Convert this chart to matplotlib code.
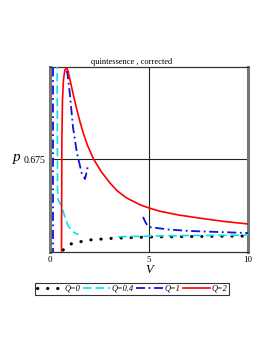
import numpy as np
import matplotlib
matplotlib.use("Agg")
import matplotlib.pyplot as plt

# ---- data ----
V_q0 = [0.66, 1.1, 1.6, 2.0, 3.0, 4.0, 5.0, 7.0, 10.0]
P_q0 = [0.5772, 0.5842, 0.5864, 0.5880, 0.5896, 0.5905, 0.5912, 0.5917, 0.5923]

V_q04a = [0.36, 0.37, 0.38, 0.42, 0.55, 0.62, 0.75, 0.9, 1.1, 1.3, 1.45]
P_q04a = [0.782, 0.718, 0.642, 0.631, 0.626, 0.622, 0.613, 0.604, 0.598, 0.595, 0.594]
V_q04b = [3.45, 5.0, 7.0, 10.0]
P_q04b = [0.5915, 0.5922, 0.5928, 0.5932]

V_q1v = [0.15, 0.15]
P_q1v = [0.57, 0.78]
V_q1a = [0.80, 0.87, 1.0, 1.16, 1.36, 1.6, 1.77, 1.87, 1.92]
P_q1a = [0.770, 0.770, 0.7469, 0.7101, 0.6820, 0.6604, 0.6539, 0.6636, 0.6680]
V_q1b = [4.7, 4.8, 4.9, 5.0, 6.0, 7.07, 10.0]
P_q1b = [0.6129, 0.6080, 0.6042, 0.6020, 0.5993, 0.5977, 0.5955]

V_q2 = [0.58, 0.59, 0.60, 0.63, 0.68, 0.75, 0.85, 0.92, 1.0, 1.1, 1.2, 1.36,
        1.5, 1.68, 1.9, 2.2, 2.6, 3.03, 3.4, 3.87, 4.55, 5.0, 5.56, 6.5, 7.6,
        8.8, 10.0]
P_q2 = [0.5664, 0.6312, 0.6961, 0.7393, 0.7609, 0.7718, 0.7742, 0.7700, 0.7620,
        0.7525, 0.7430, 0.7285, 0.7170, 0.7036, 0.6900, 0.6755, 0.6615, 0.6496,
        0.6410, 0.6334, 0.6260, 0.6226, 0.6190, 0.6150, 0.6115, 0.6080, 0.6053]

labels = ["Q=0", "Q=0.4", "Q=1", "Q=2"]
xticks = [0, 5, 10]
p_mark = 0.675
v_mark = 5

fig = plt.figure(figsize=(2.73, 3.53), dpi=100)
ax = fig.add_axes([50/273, 101/353, 198/273, 185/353])
ax.set_xlim(0, 10)
ax.set_ylim(0.575, 0.775)

serif = "Liberation Serif"

ax.axvline(v_mark, color="#222222", lw=0.8, zorder=1)
ax.axhline(p_mark, color="#222222", lw=0.8, zorder=1)

l0, = ax.plot(V_q0, P_q0, color="black", lw=2.2, linestyle=(0, (0.1, 3.2)),
              dash_capstyle="round", label=labels[0], zorder=3)
l1, = ax.plot(V_q04a, P_q04a, color="#00e5e5", lw=1.2, linestyle=(0, (5, 2.5)),
              label=labels[1], zorder=3)
ax.plot(V_q04b, P_q04b, color="#00e5e5", lw=1.2, linestyle=(0, (5, 2.5)), zorder=3)
l2, = ax.plot(V_q1a, P_q1a, color="#1010e0", lw=1.3, linestyle=(0, (5, 2, 1, 2)),
              label=labels[2], zorder=3)
ax.plot(V_q1v, P_q1v, color="#1010e0", lw=1.3, linestyle=(0, (5, 2, 1, 2)), zorder=3)
ax.plot(V_q1b, P_q1b, color="#1010e0", lw=1.3, linestyle=(0, (5, 2, 1, 2)), zorder=3)
l3, = ax.plot(V_q2, P_q2, color="#ff0000", lw=1.2, label=labels[3], zorder=4)

for s in ["left", "right"]:
    ax.spines[s].set_color("#777777")
    ax.spines[s].set_linewidth(2.2)
for s in ["top", "bottom"]:
    ax.spines[s].set_color("#333333")
    ax.spines[s].set_linewidth(0.9)

ax.set_xticks(xticks)
ax.set_xticklabels([str(t) for t in xticks], fontfamily=serif, fontsize=6.5)
ax.set_yticks([p_mark])
ax.set_yticklabels([str(p_mark)], fontfamily=serif, fontsize=7)
ax.tick_params(axis="both", length=0, pad=3)

ax.set_xlabel("V", fontfamily=serif, fontstyle="italic", fontsize=9, labelpad=0)
fig.text(17/273, 1 - 158/353, "p", fontfamily=serif, fontstyle="italic",
         fontsize=11, ha="center", va="center")
fig.text(132/273, 1 - 62/353, "quintessence , corrected", fontfamily=serif,
         fontsize=6, ha="center", va="center")

leg = fig.legend(handles=[l0, l1, l2, l3], labels=labels, loc="center",
                 bbox_to_anchor=(132/273, 1 - 289/353), ncol=4, frameon=True,
                 fancybox=False, edgecolor="black", handlelength=3.2,
                 handletextpad=0.2, columnspacing=0.3, borderpad=0.25,
                 prop={"family": serif, "style": "italic", "size": 6})
leg.get_frame().set_linewidth(0.8)

fig.savefig("out.png", dpi=100)
